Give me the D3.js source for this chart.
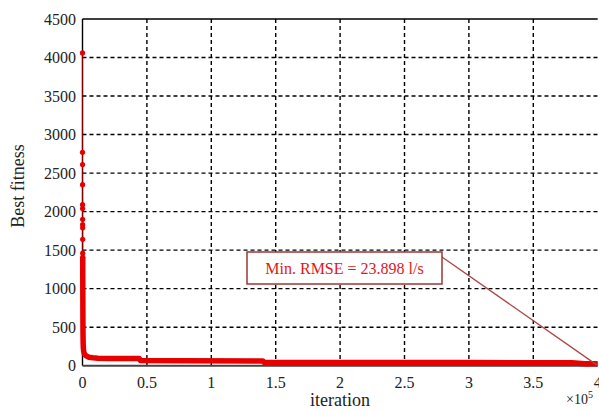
<!DOCTYPE html>
<html><head><meta charset="utf-8">
<script src="https://cdn.jsdelivr.net/npm/d3@7"></script>
<style>body{margin:0;background:#fff}svg{display:block}text{font-family:"Liberation Serif","Times New Roman",serif}</style>
</head><body><svg id="c" width="599" height="411"></svg>
<script>
// iteration (raw) and best fitness values
const iterations = [0, 15, 30, 45, 60, 75, 90, 105, 120, 135, 150, 170, 190, 210, 240, 280, 330, 400, 500, 650, 900, 1300, 2000, 3000, 5000, 8000, 12000, 20000, 30000, 44000, 45000, 80000, 140000, 141000, 200000, 300000, 380000, 390000, 400000];
const fitness    = [4060, 2770, 2610, 2350, 2090, 2040, 1900, 1830, 1790, 1640, 1460, 1410, 1300, 1150, 950, 800, 600, 420, 300, 230, 190, 160, 140, 125, 110, 103, 98, 95, 94, 93, 66, 64, 62, 44, 42, 40, 38, 26, 24];
const markerIdx  = [0,1,2,3,4,5,6,7,8,9,10,11];
const xTicks = [0, 0.5, 1, 1.5, 2, 2.5, 3, 3.5, 4];
const yTicks = [0, 500, 1000, 1500, 2000, 2500, 3000, 3500, 4000, 4500];
const annotationText = "Min. RMSE = 23.898 l/s";

const svg = d3.select("#c");
const L = 82.5, R = 597.7, T = 19, B = 365.7;
const x = d3.scaleLinear().domain([0, 4e5]).range([L, R]);
const y = d3.scaleLinear().domain([0, 4500]).range([B, T]);

// grid
const g = svg.append("g");
g.selectAll("line.h").data(yTicks.filter(v => v > 0 && v < 4500)).enter().append("line")
  .attr("x1", L).attr("x2", R).attr("y1", d => y(d)).attr("y2", d => y(d))
  .attr("stroke", "#000").attr("stroke-width", 1.4).attr("stroke-dasharray", "4,3");
g.selectAll("line.v").data(xTicks.filter(v => v > 0 && v < 4)).enter().append("line")
  .attr("x1", d => x(d * 1e5)).attr("x2", d => x(d * 1e5)).attr("y1", T).attr("y2", B)
  .attr("stroke", "#000").attr("stroke-width", 1.4).attr("stroke-dasharray", "4,3");

// frame
svg.append("line").attr("x1", L).attr("x2", R).attr("y1", T).attr("y2", T).attr("stroke", "#000").attr("stroke-width", 1.4);
svg.append("line").attr("x1", L).attr("x2", L).attr("y1", T).attr("y2", B).attr("stroke", "#000").attr("stroke-width", 1.4);
svg.append("line").attr("x1", L).attr("x2", R).attr("y1", B).attr("y2", B).attr("stroke", "#444").attr("stroke-width", 2);

// tick labels
svg.selectAll("text.yt").data(yTicks).enter().append("text")
  .attr("x", 76).attr("y", d => y(d) + 5.5).attr("text-anchor", "end")
  .attr("font-size", 16).attr("fill", "#222").text(d => d);
svg.selectAll("text.xt").data(xTicks).enter().append("text")
  .attr("x", d => x(d * 1e5)).attr("y", 388).attr("text-anchor", "middle")
  .attr("font-size", 16).attr("fill", "#222").text(d => d);

// axis labels
svg.append("text").attr("x", 340).attr("y", 406).attr("text-anchor", "middle")
  .attr("font-size", 18).attr("fill", "#222").text("iteration");
svg.append("text").attr("transform", "translate(24,186) rotate(-90)").attr("text-anchor", "middle")
  .attr("font-size", 18).attr("fill", "#222").text("Best fitness");
const ex = svg.append("text").attr("x", 566).attr("y", 404).attr("font-size", 14).attr("fill", "#222");
ex.append("tspan").text("×10");
ex.append("tspan").attr("dy", -6).attr("font-size", 10).text("5");

// data line
const pts = iterations.map((it, i) => [it, fitness[i]]);
const smooth = d3.line().x(d => x(d[0])).y(d => y(d[1]));
svg.append("path").datum(pts).attr("d", smooth).attr("fill", "none")
  .attr("stroke", "#a00000").attr("stroke-width", 1.2).attr("opacity", 0.8);
svg.append("path").datum(pts.slice(11)).attr("d", smooth).attr("fill", "none")
  .attr("stroke", "#e80000").attr("stroke-width", 5.5).attr("stroke-linejoin", "round");
svg.selectAll("circle.m").data(markerIdx.map(i => pts[i])).enter().append("circle")
  .attr("cx", d => x(d[0])).attr("cy", d => y(d[1])).attr("r", 2.6).attr("fill", "#e80000");

// annotation
svg.append("line").attr("x1", 442).attr("y1", 257).attr("x2", x(4e5) - 1).attr("y2", y(fitness[fitness.length - 1]) + 1)
  .attr("stroke", "#b04545").attr("stroke-width", 1.3);
svg.append("rect").attr("x", 247).attr("y", 252).attr("width", 195).attr("height", 32)
  .attr("fill", "#fff").attr("stroke", "#a03535").attr("stroke-width", 1.5);
svg.append("text").attr("x", 344.5).attr("y", 273.5).attr("text-anchor", "middle")
  .attr("font-size", 16).attr("fill", "#e01818").text(annotationText);
</script></body></html>
